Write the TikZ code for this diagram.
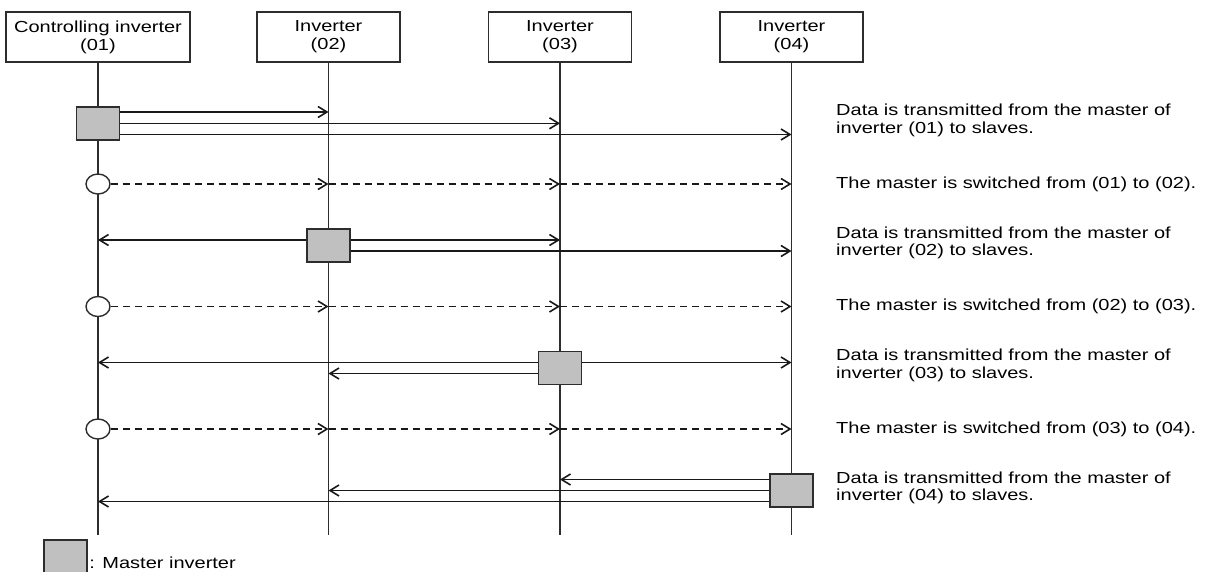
\documentclass[tikz,border=0pt]{standalone}
\usepackage{fontspec}
\newfontfamily\labfont[FakeStretch=1.25]{Liberation Sans}
\usetikzlibrary{positioning, arrows.meta, shapes.geometric}
\definecolor{boxgray}{RGB}{192,192,192}
\definecolor{linegray}{RGB}{45,45,45}
\tikzset{
  unit/.style={draw=linegray, line width=1.2pt, minimum height=50pt, inner sep=0pt,
    align=center, font=\labfont\fontsize{16}{18}\selectfont},
  life/.style={draw=linegray, line width=1.5pt},
  master/.style={draw=linegray, fill=boxgray, line width=1.5pt,
    minimum width=43pt, minimum height=33pt, inner sep=0pt},
  token/.style={ellipse, draw=linegray, fill=white, line width=1.4pt,
    minimum width=24pt, minimum height=20pt, inner sep=0pt},
  msg/.style={draw=black!90, line width=1.6pt, -{Straight Barb[length=9pt,width=11pt]}},
  swmsg/.style={msg, dash pattern=on 7pt off 5pt},
  note/.style={anchor=west, inner sep=0pt, align=left,
    font=\labfont\fontsize{16}{17.3}\selectfont}
}

\begin{document}
\begin{tikzpicture}[x=1pt, y=-1pt]
    \useasboundingbox (0,0) rectangle (1207,571);

    % --- Inverter headers and lifelines ---
    \node[unit, minimum width=184pt] (h1) at (98,37) {Controlling inverter\\(01)};
    \node[unit, minimum width=143pt] (h2) at (328.5,37) {Inverter\\(02)};
    \node[unit, minimum width=143pt] (h3) at (560,37) {Inverter\\(03)};
    \node[unit, minimum width=143pt] (h4) at (791.5,37) {Inverter\\(04)};
    \draw[life] (h1.south) -- (h1.south |- 0,535);
    \draw[life] (h2.south) -- (h2.south |- 0,535);
    \draw[life] (h3.south) -- (h3.south |- 0,535);
    \draw[life] (h4.south) -- (h4.south |- 0,535);

    % --- Master boxes and switch tokens (on top of lifelines) ---
    \node[master] (m1) at (h1 |- 0,123.3) {};
    \node[token]  (c1) at (h1 |- 0,184) {};
    \node[master] (m2) at (h2 |- 0,245.3) {};
    \node[token]  (c2) at (h1 |- 0,306.5) {};
    \node[master] (m3) at (h3 |- 0,368) {};
    \node[token]  (c3) at (h1 |- 0,429) {};
    \node[master] (m4) at (h4 |- 0,490.5) {};

    % --- (01) is master ---
    \draw[msg] (m1.east |- 0,112) -- (h2 |- 0,112);
    \draw[msg] (m1.east |- 0,123.3) -- (h3 |- 0,123.3);
    \draw[msg] (m1.east |- 0,134.5) -- (h4 |- 0,134.5);

    % --- Switch (01) to (02) ---
    \draw[swmsg] (c1.east) -- (h2 |- c1);
    \draw[swmsg] (h2 |- c1) -- (h3 |- c1);
    \draw[swmsg] (h3 |- c1) -- (h4 |- c1);

    % --- (02) is master ---
    \draw[msg] (m2.west |- 0,240) -- (h1 |- 0,240);
    \draw[msg] (m2.east |- 0,240) -- (h3 |- 0,240);
    \draw[msg] (m2.east |- 0,251) -- (h4 |- 0,251);

    % --- Switch (02) to (03) ---
    \draw[swmsg] (c2.east) -- (h2 |- c2);
    \draw[swmsg] (h2 |- c2) -- (h3 |- c2);
    \draw[swmsg] (h3 |- c2) -- (h4 |- c2);

    % --- (03) is master ---
    \draw[msg] (m3.west |- 0,362.5) -- (h1 |- 0,362.5);
    \draw[msg] (m3.west |- 0,373.5) -- (h2 |- 0,373.5);
    \draw[msg] (m3.east |- 0,362.5) -- (h4 |- 0,362.5);

    % --- Switch (03) to (04) ---
    \draw[swmsg] (c3.east) -- (h2 |- c3);
    \draw[swmsg] (h2 |- c3) -- (h3 |- c3);
    \draw[swmsg] (h3 |- c3) -- (h4 |- c3);

    % --- (04) is master ---
    \draw[msg] (m4.west |- 0,479.5) -- (h3 |- 0,479.5);
    \draw[msg] (m4.west |- 0,490.5) -- (h2 |- 0,490.5);
    \draw[msg] (m4.west |- 0,501.5) -- (h1 |- 0,501.5);

    % --- Descriptions ---
    \node[note] (t1) at (836,120.5) {Data is transmitted from the master of\\inverter (01) to slaves.};
    \node[note] (t2) at (836,184) {The master is switched from (01) to (02).};
    \node[note] (t3) at (836,243) {Data is transmitted from the master of\\inverter (02) to slaves.};
    \node[note] (t4) at (836,306.5) {The master is switched from (02) to (03).};
    \node[note] (t5) at (836,365.5) {Data is transmitted from the master of\\inverter (03) to slaves.};
    \node[note] (t6) at (836,429) {The master is switched from (03) to (04).};
    \node[note] (t7) at (836,488) {Data is transmitted from the master of\\inverter (04) to slaves.};

    % --- Legend ---
    \node[master] (leg) at (65.5,556.5) {};
    \node[note, anchor=base west] (legtxt) at ([xshift=1.5pt]leg.east |- 0,568) {: Master inverter};

\end{tikzpicture}
\end{document}
